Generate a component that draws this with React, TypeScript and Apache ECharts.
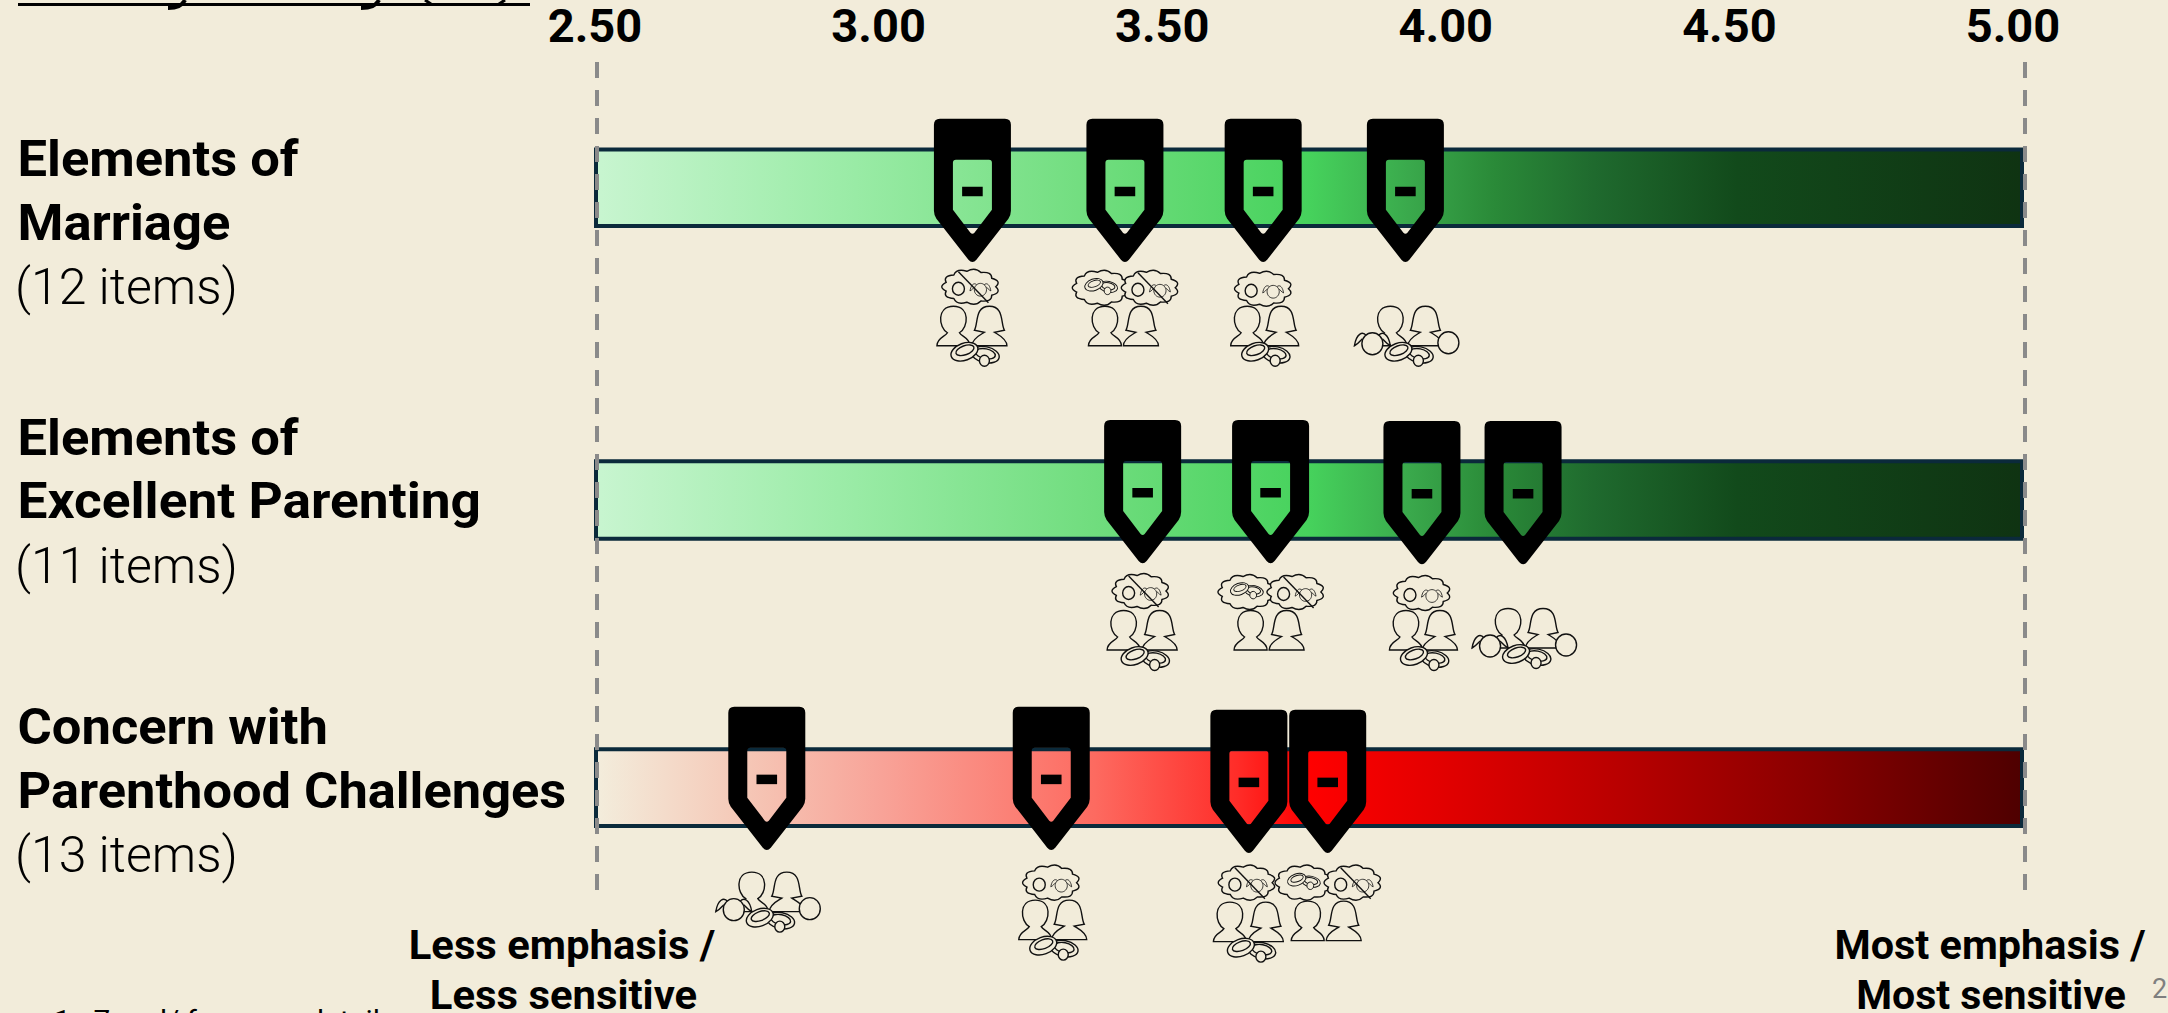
import React, { useEffect, useRef } from "react";
import * as echarts from "echarts";

// Scale bounds of the composite mean score
const scoreMin = 2.5;
const scoreMax = 5;
const scoreStep = 0.5;

// Row headings
const marriageHeading = ["Elements of", "Marriage"];
const parentingHeading = ["Elements of", "Excellent Parenting"];
const concernHeading = ["Concern with", "Parenthood Challenges"];
const itemCounts = ["(12 items)", "(11 items)", "(13 items)"];

// Group mean per row
const marriageScores = [3.159, 3.426, 3.668, 3.917];
const parentingScores = [3.457, 3.681, 3.946, 4.123];
const concernScores = [2.799, 3.297, 3.643, 3.781];

// Which respondent group each score belongs to
const marriageGroups = ["marriedNoKids", "unmarriedNoKids", "marriedWantKids", "marriedWithKids"];
const parentingGroups = ["marriedNoKids", "unmarriedNoKids", "marriedWantKids", "marriedWithKids"];
const concernGroups = ["marriedWithKids", "marriedWantKids", "marriedNoKids", "unmarriedNoKids"];

// Caption pieces
const lessEnd = ["Less emphasis /", "Less sensitive"];
const mostEnd = ["Most emphasis /", "Most sensitive"];
const footnote = "1 - 7 and/ for more details";
const pageNumber = "2";

// Layout and palette
const PAPER = "#f2ecda";
const INK = "#000000";
const FONT = "Roboto";
const BAR_EDGE = "#0b2a3b";

const greenRamp = [
  [0, "#c8f5d0"], [0.17, "#9ceca8"], [0.35, "#70dd7e"], [0.5, "#46d25c"],
  [0.57, "#3aa94c"], [0.63, "#2a8a38"], [0.7, "#1f6a2e"], [0.8, "#124a1b"], [1, "#0f3312"],
];
const redRamp = [
  [0, "#f3eddc"], [0.1, "#f5c9b8"], [0.2, "#f8a398"], [0.35, "#fd6a60"], [0.45, "#ff2c28"],
  [0.5, "#ff0000"], [0.6, "#e00000"], [0.72, "#b80000"], [0.85, "#8a0000"], [1, "#4e0000"],
];

const rows = [
  { top: 147.5, height: 80.5, headingY: 176, stretch: 1.05, scores: marriageScores, groups: marriageGroups, heading: marriageHeading, ramp: greenRamp, tip: [75, 75, 75, 75], shift: [0, 0, 0, 0] },
  { top: 459.3, height: 81.4, headingY: 455, stretch: 1.065, scores: parentingScores, groups: parentingGroups, heading: parentingHeading, ramp: greenRamp, tip: [64, 64, 65, 65], shift: [3, 3, 2, 0] },
  { top: 747.3, height: 80.7, headingY: 744, stretch: 1.048, scores: concernScores, groups: concernGroups, heading: concernHeading, ramp: redRamp, tip: [63, 63, 66, 66], shift: [-22, 6, 5, 4] },
];

// Pencil-shaped pin, tip at the origin; the inner contour winds the other way to leave a window
const PIN =
  "M-32.5 -144 L32.5 -144 Q38.5 -144 38.5 -138 L38.5 -52 Q38.5 -48 36 -44 L4 -3 Q0 1.5 -4 -3 L-36 -44 Q-38.5 -48 -38.5 -52 L-38.5 -138 Q-38.5 -144 -32.5 -144 Z " +
  "M-16.5 -103 Q-19.5 -103 -19.5 -100 L-19.5 -53 L-2 -30 Q0 -28 2 -30 L19.5 -53 L19.5 -100 Q19.5 -103 16.5 -103 Z";

const MAN =
  "M-16.5 0 C-16.5 -8 -8 -9 -6 -13 C-15 -18 -17 -39.5 0 -39.5 C17 -39.5 15 -18 6 -13 C8 -9 16.5 -8 16.5 0 Z";
const WOMAN =
  "M-17.5 0 C-17.5 -7 -9 -11 -5 -13.5 L-15 -15.5 C-11 -22 -15 -39.5 0 -39.5 C15 -39.5 11 -22 15 -15.5 L5 -13.5 C9 -11 17.5 -7 17.5 0 Z";
const TAILS =
  "M-6 -8 C-10 -13 -16 -10 -18 2 C-14 0 -12 -3 -10 -5 M6 -8 C10 -13 16 -10 18 2 C14 0 12 -3 10 -5";

// Scalloped thought bubble built round an ellipse
function cloudPath(rx: number, ry: number, bumps: number) {
  let d = "";
  for (let i = 0; i < bumps; i++) {
    const a0 = (i / bumps) * Math.PI * 2;
    const a1 = ((i + 1) / bumps) * Math.PI * 2;
    const am = (a0 + a1) / 2;
    const p0 = [Math.cos(a0) * rx * 0.92, Math.sin(a0) * ry * 0.92];
    const p1 = [Math.cos(a1) * rx * 0.92, Math.sin(a1) * ry * 0.92];
    const c = [Math.cos(am) * rx * 1.2, Math.sin(am) * ry * 1.2];
    if (i === 0) d += `M${p0[0].toFixed(2)} ${p0[1].toFixed(2)} `;
    d += `Q${c[0].toFixed(2)} ${c[1].toFixed(2)} ${p1[0].toFixed(2)} ${p1[1].toFixed(2)} `;
  }
  return d + "Z";
}
const CLOUD = cloudPath(27.5, 17, 11);

const outline = { stroke: "#111111", lineWidth: 1.4, fill: PAPER };

function pathAt(d: string, x: number, y: number, style = outline) {
  return { type: "path", x, y, shape: { pathData: d }, style };
}
function ellipseAt(x: number, y: number, rx: number, ry: number, rotation = 0, style = outline) {
  return { type: "ellipse", x, y, rotation, shape: { cx: 0, cy: 0, rx, ry }, style };
}

function ringPair(x: number, y: number, scale = 1) {
  return {
    type: "group", x, y, scaleX: scale, scaleY: scale,
    children: [
      ellipseAt(21, 3, 14, 8, -0.2),
      ellipseAt(21, 2, 10, 5, -0.2),
      ellipseAt(20, 9, 5, 5.5),
      ellipseAt(0, 0, 14, 8.5, 0.35),
      ellipseAt(0.5, -1.5, 9.5, 4.5, 0.35),
    ],
  };
}
function girlHead(x: number, y: number, scale = 1) {
  return {
    type: "group", x, y, scaleX: scale, scaleY: scale,
    children: [pathAt(TAILS, 0, 0), ellipseAt(0, 0, 10.5, 11)],
  };
}
function kidsBubble(x: number, y: number, crossed: boolean) {
  const parts: any[] = [pathAt(CLOUD, x, y), ellipseAt(x - 12, y + 2, 6, 6.5), girlHead(x + 10, y + 3, 0.58)];
  if (crossed) {
    parts.push({ type: "line", shape: { x1: x - 12, y1: y - 15, x2: x + 18, y2: y + 16 }, style: { stroke: "#111111", lineWidth: 1.4 } });
  }
  return parts;
}

const ICONS: Record<string, () => any[]> = {
  marriedNoKids: () => [
    ...kidsBubble(-2, 24, true),
    pathAt(MAN, -19, 83), pathAt(WOMAN, 17, 83),
    ringPair(-8, 89),
  ],
  unmarriedNoKids: () => [
    pathAt(CLOUD, -24, 25),
    ringPair(-31, 22, 0.68),
    ...kidsBubble(25, 25, true),
    pathAt(MAN, -20, 83), pathAt(WOMAN, 16, 83),
  ],
  marriedWantKids: () => [
    ...kidsBubble(0, 26, false),
    pathAt(MAN, -16, 83), pathAt(WOMAN, 18, 83),
    ringPair(-8, 89),
  ],
  marriedWithKids: () => [
    pathAt(MAN, -15, 83), pathAt(WOMAN, 20, 83),
    girlHead(-33, 81),
    ellipseAt(43, 80, 10.5, 11),
    ringPair(-7, 89),
  ],
};

function pinSeries(row: (typeof rows)[number], gridIndex: number) {
  return {
    type: "custom",
    xAxisIndex: gridIndex,
    yAxisIndex: gridIndex,
    z: 5,
    clip: false,
    data: row.scores.map((s) => [s, 0]),
    encode: { x: 0, y: 1 },
    renderItem: (params: any, api: any) => {
      const [x, centre] = api.coord([api.value(0), 0]);
      const i = params.dataIndex;
      return {
        type: "group",
        x,
        y: centre + row.tip[i],
        children: [
          { type: "path", shape: { pathData: PIN }, style: { fill: INK } },
          { type: "rect", shape: { x: -10.3, y: -76, width: 20.6, height: 9.5 }, style: { fill: INK } },
          { type: "group", y: row.shift[i], children: ICONS[row.groups[i]]() },
        ],
      };
    },
  };
}

function caption(text: string, x: number, baseline: number, fontSize: number, fontWeight: number, align = "left", fill = INK, stretch = 1) {
  return {
    type: "text",
    silent: true,
    x,
    y: baseline - fontSize * 0.35,
    scaleX: stretch,
    style: { text, x: 0, y: 0, fontSize, fontWeight, fontFamily: FONT, fill, align, verticalAlign: "middle" },
  };
}

function buildOption() {
  const tickGrid = rows.length;
  const guideGrid = rows.length + 1;
  const hiddenX = { type: "value", min: scoreMin, max: scoreMax, show: false };
  const hiddenY = { type: "category", data: ["score"], show: false };
  const graphics: any[] = [];

  rows.forEach((row, i) => {
    graphics.push(caption(row.heading[0], 17.5, row.headingY, 50, 700, "left", INK, 1.05));
    graphics.push(caption(row.heading[1], 17.5, row.headingY + 64, 50, 700, "left", INK, row.stretch));
    graphics.push(caption(itemCounts[i], 15, row.headingY + 128, 50, 300));
  });
  graphics.push(
    caption(lessEnd[0], 562, 959, 41, 700, "center", INK, 1.02),
    caption(lessEnd[1], 563.5, 1009, 41, 700, "center", INK, 1.02),
    caption(mostEnd[0], 1990, 959, 41, 700, "center", INK, 1.01),
    caption(mostEnd[1], 1991, 1009, 41, 700, "center"),
    caption(footnote, 54, 1030, 27, 400, "left", INK, 1.1),
    caption(pageNumber, 2152, 998, 27, 400, "left", "#7f7f7f"),
    // Title rule along the top edge, with the descenders that hang through it
    { type: "line", silent: true, shape: { x1: 18, y1: 4.5, x2: 530, y2: 4.5 }, style: { stroke: INK, lineWidth: 3 } },
    { type: "bezierCurve", silent: true, shape: { x1: 185, y1: 0, cpx1: 181, cpy1: 8, x2: 168, y2: 8 }, style: { stroke: INK, lineWidth: 4, fill: "none" } },
    { type: "bezierCurve", silent: true, shape: { x1: 379, y1: 0, cpx1: 375, cpy1: 8, x2: 361, y2: 8 }, style: { stroke: INK, lineWidth: 4, fill: "none" } },
    { type: "line", silent: true, shape: { x1: 425, y1: 0, x2: 431, y2: 4 }, style: { stroke: INK, lineWidth: 3 } },
    { type: "line", silent: true, shape: { x1: 505, y1: 0, x2: 499, y2: 4 }, style: { stroke: INK, lineWidth: 3 } },
  );

  return {
    animation: false,
    backgroundColor: PAPER,
    graphic: graphics,
    grid: [
      ...rows.map((r) => ({ left: 596, width: 1428, top: r.top, height: r.height })),
      { left: 595, width: 1418, top: 52.5, height: 10 },
      { left: 596.5, width: 1428.5, top: 62, height: 828 },
    ],
    xAxis: [
      ...rows.map((_, i) => ({ ...hiddenX, gridIndex: i })),
      {
        type: "value", gridIndex: tickGrid, position: "top", min: scoreMin, max: scoreMax, interval: scoreStep,
        axisLine: { show: false }, axisTick: { show: false }, splitLine: { show: false },
        axisLabel: { show: true, margin: 4, fontSize: 47, fontWeight: 700, fontFamily: FONT, color: INK, formatter: (v: number) => v.toFixed(2) },
      },
      {
        type: "value", gridIndex: guideGrid, min: scoreMin, max: scoreMax, interval: scoreMax - scoreMin, z: 3,
        axisLine: { show: false }, axisTick: { show: false }, axisLabel: { show: false },
        splitLine: { show: true, lineStyle: { color: "#8a8a8a", width: 4, type: [16, 12] } },
      },
    ],
    yAxis: [
      ...rows.map((_, i) => ({ ...hiddenY, gridIndex: i })),
      { type: "value", gridIndex: tickGrid, show: false },
      { type: "value", gridIndex: guideGrid, show: false },
    ],
    series: [
      ...rows.map((row, i) => ({
        type: "bar",
        xAxisIndex: i,
        yAxisIndex: i,
        z: 2,
        barWidth: "100%",
        data: [scoreMax],
        silent: true,
        itemStyle: {
          borderColor: BAR_EDGE,
          borderWidth: 4,
          color: new echarts.graphic.LinearGradient(0, 0, 1, 0, row.ramp.map(([offset, color]) => ({ offset, color }))),
        },
      })),
      ...rows.map((row, i) => pinSeries(row, i)),
    ],
  };
}

export default function App() {
  const ref = useRef<HTMLDivElement>(null);
  useEffect(() => {
    document.body.style.margin = "0";
    document.body.style.overflow = "hidden";
    const chart = echarts.init(ref.current, null, { renderer: "svg" });
    chart.setOption(buildOption() as any);
    return () => chart.dispose();
  }, []);
  return <div ref={ref} style={{ width: 2168, height: 1013 }} />;
}
